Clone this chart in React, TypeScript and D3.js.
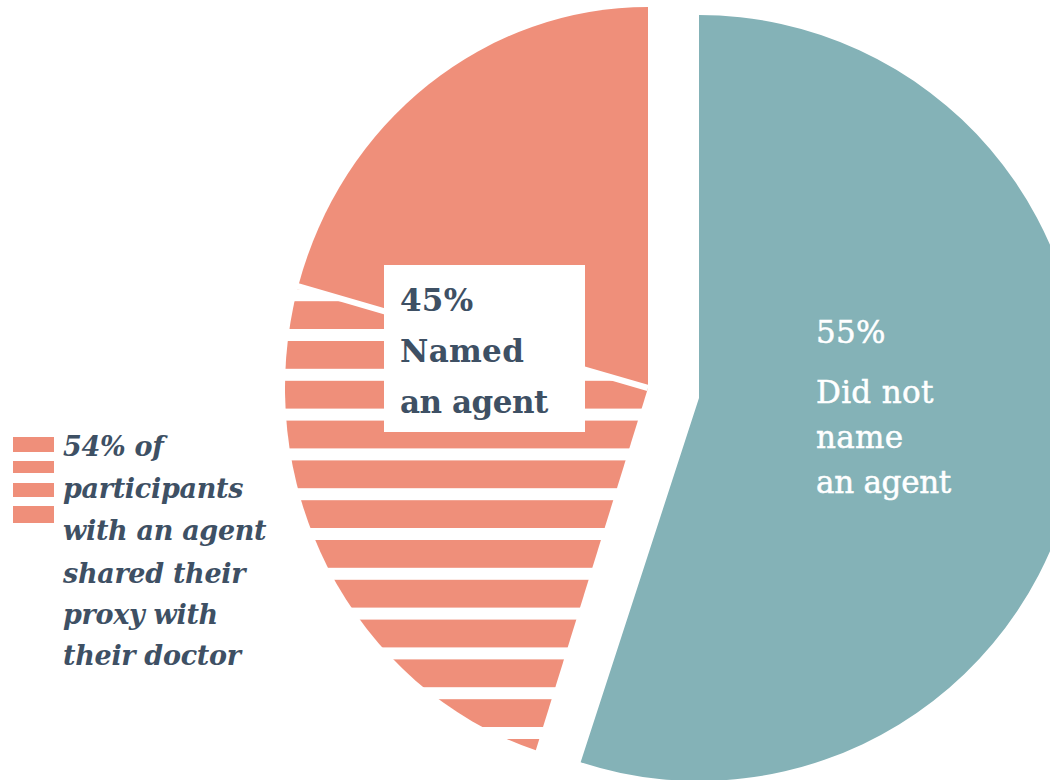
import React from "react";
import * as d3 from "d3";

const categories = ["Did not name an agent", "Named an agent"];
const shares = [55, 45];
const subCategories = ["Shared proxy with doctor", "Did not share"];
const subShares = [54, 46];
const boxLines = ["45%", "Named", "an agent"];
const tealLines = ["55%", "Did not", "name", "an agent"];
const legendLines = ["54% of", "participants", "with an agent", "shared their", "proxy with", "their doctor"];

const SALMON = "#ef8f7a";
const TEAL = "#84b2b7";
const INK = "#3e5064";

export default function App() {
  const pie = d3.pie<number>().sort(null).startAngle(0).endAngle(2 * Math.PI);
  const arcsMain = pie(shares);
  const teal = arcsMain[0];
  const salmon = arcsMain[1];

  const split = d3
    .pie<number>()
    .sort(null)
    .startAngle(salmon.startAngle)
    .endAngle(salmon.endAngle)(subShares);
  const striped = split[0];
  const solid = split[1];

  const R = 381;
  const tealR = 383;
  const tealPath = d3.arc<any>().innerRadius(0).outerRadius(tealR)(teal as any) || "";
  const stripedPath = d3.arc<any>().innerRadius(0).outerRadius(R)(striped as any) || "";
  const solidPath = d3.arc<any>().innerRadius(0).outerRadius(R)(solid as any) || "";

  const tealC = { x: 699, y: 398 };
  const salC = { x: 648, y: 388 };
  const salSx = 363 / 381;

  const period = 39.8;
  const gap = 12;
  const firstGap = 329;
  const stripes: { y: number; h: number }[] = [];
  for (let i = -1; i < 14; i++) {
    const top = firstGap + period * (i - 1) + gap;
    stripes.push({ y: top, h: period - gap });
  }

  const splitAngle = striped.endAngle;
  const lx = Math.sin(splitAngle) * R * salSx;
  const ly = -Math.cos(splitAngle) * R;

  const legendSwatches = [
    { y: 437, h: 15 },
    { y: 461, h: 12 },
    { y: 483, h: 14 },
    { y: 506, h: 17 },
  ];

  return (
    <svg
      width={1050}
      height={780}
      style={{ position: "absolute", left: 0, top: 0, background: "#fff" }}
    >
      <defs>
        <clipPath id="stripeClip">
          <path d={stripedPath} transform={`translate(${salC.x},${salC.y}) scale(${salSx},1)`} />
        </clipPath>
      </defs>
      <path d={tealPath} transform={`translate(${tealC.x},${tealC.y})`} fill={TEAL} />
      <path
        d={solidPath}
        transform={`translate(${salC.x},${salC.y}) scale(${salSx},1)`}
        fill={SALMON}
      />
      <g clipPath="url(#stripeClip)">
        {stripes.map((s, i) => (
          <rect key={i} x={200} y={s.y} width={500} height={s.h} fill={SALMON} />
        ))}
      </g>
      <line
        x1={salC.x}
        y1={salC.y}
        x2={salC.x + lx * 1.05}
        y2={salC.y + ly * 1.05}
        stroke="#fff"
        strokeWidth={6}
      />
      <rect x={384} y={265} width={201} height={167} fill="#fff" />
      <g fontFamily="'DejaVu Serif', serif" fontWeight="bold" fontSize={31} fill={INK}>
        {boxLines.map((t, i) => (
          <text key={t} x={400} y={[311, 362, 413][i]} letterSpacing={i === 2 ? -0.5 : 0.3}>
            {t}
          </text>
        ))}
      </g>
      <g fontFamily="'DejaVu Serif', serif" fontSize={31} fill="#fff" stroke="#fff" strokeWidth={0.5}>
        {tealLines.map((t, i) => (
          <text key={t} x={816} y={[343, 403, 448, 493][i]} letterSpacing={i === 3 ? -0.3 : 0.3}>
            {t}
          </text>
        ))}
      </g>
      {legendSwatches.map((s, i) => (
        <rect key={i} x={13} y={s.y} width={41} height={s.h} fill={SALMON} />
      ))}
      <g
        fontFamily="'DejaVu Serif', serif"
        fontWeight="bold"
        fontStyle="italic"
        fontSize={27}
        fill={INK}
      >
        {legendLines.map((t, i) => (
          <text key={t} x={63} y={[456, 498, 540, 583, 624, 665][i]} letterSpacing={-0.3}>
            {t}
          </text>
        ))}
      </g>
    </svg>
  );
}
